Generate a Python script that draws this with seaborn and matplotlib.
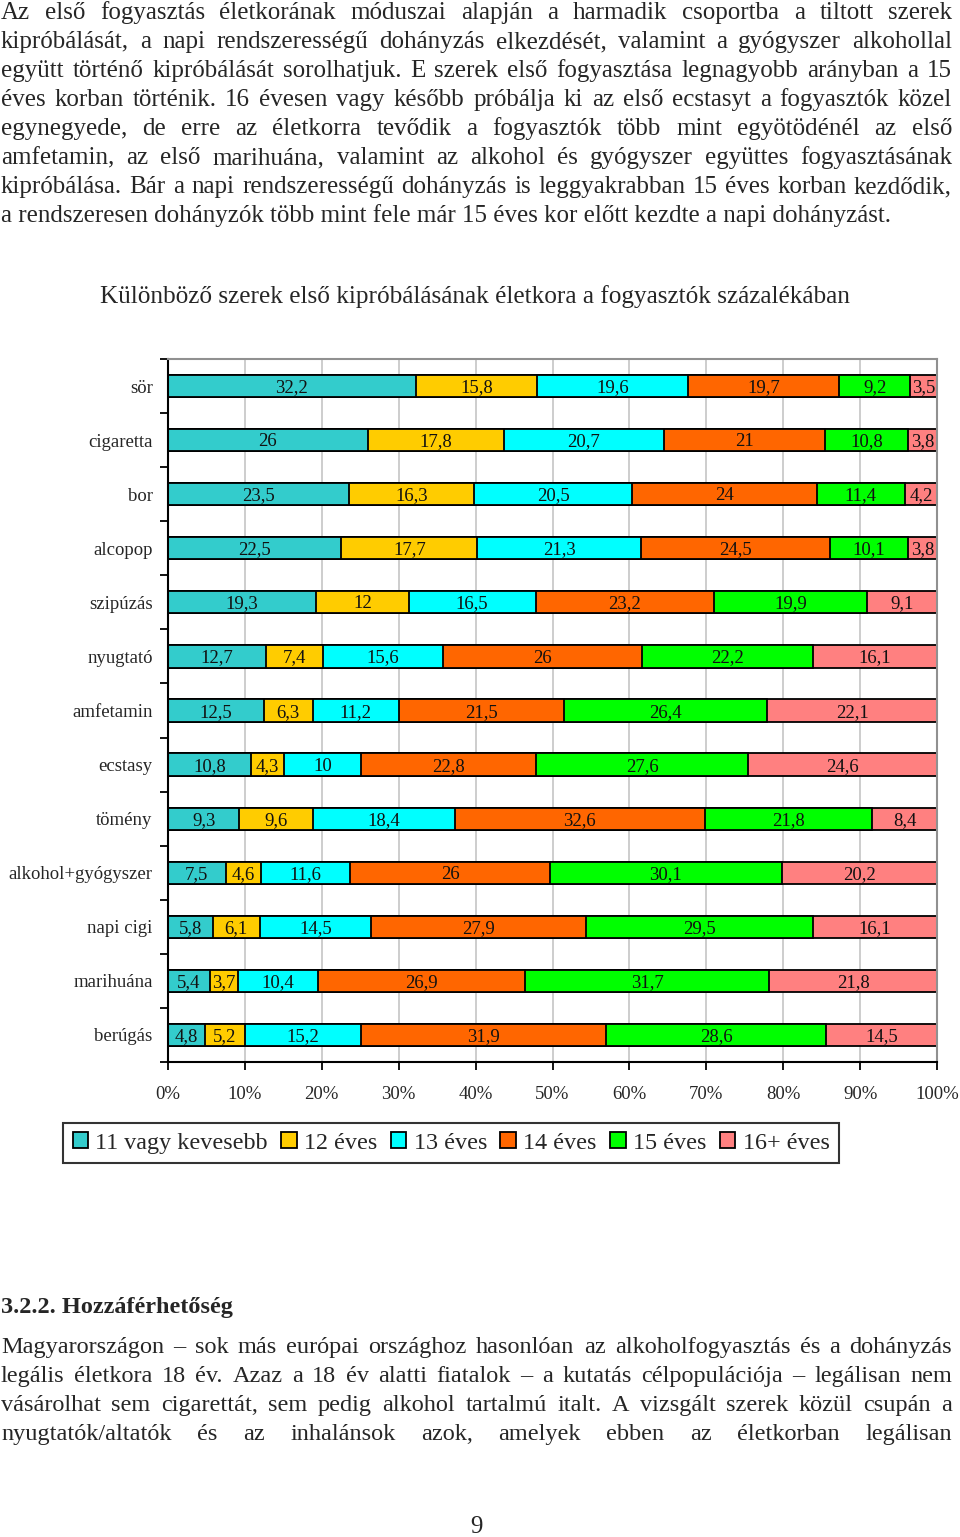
import numpy as np
import pandas as pd
import matplotlib
matplotlib.use("Agg")
import matplotlib.pyplot as plt
import seaborn as sns
from matplotlib.patches import Patch

# adatok (az abráról leolvasva)
kategoriak = ["sör", "cigaretta", "bor", "alcopop", "szipúzás", "nyugtató", "amfetamin",
              "ecstasy", "tömény", "alkohol+gyógyszer", "napi cigi", "marihuána", "berúgás"]
korcsoportok = ["11 vagy kevesebb", "12 éves", "13 éves", "14 éves", "15 éves", "16+ éves"]
szinek = ["#33CCCC", "#FFCC00", "#00FFFF", "#FF6600", "#00FF00", "#FF8080"]

ev11 = [32.2, 26, 23.5, 22.5, 19.3, 12.7, 12.5, 10.8, 9.3, 7.5, 5.8, 5.4, 4.8]
ev12 = [15.8, 17.8, 16.3, 17.7, 12, 7.4, 6.3, 4.3, 9.6, 4.6, 6.1, 3.7, 5.2]
ev13 = [19.6, 20.7, 20.5, 21.3, 16.5, 15.6, 11.2, 10, 18.4, 11.6, 14.5, 10.4, 15.2]
ev14 = [19.7, 21, 24, 24.5, 23.2, 26, 21.5, 22.8, 32.6, 26, 27.9, 26.9, 31.9]
ev15 = [9.2, 10.8, 11.4, 10.1, 19.9, 22.2, 26.4, 27.6, 21.8, 30.1, 29.5, 31.7, 28.6]
ev16 = [3.5, 3.8, 4.2, 3.8, 9.1, 16.1, 22.1, 24.6, 8.4, 20.2, 16.1, 21.8, 14.5]

cim = "Különböző szerek első kipróbálásának életkora a fogyasztók százalékában"

felso_szoveg = [
    "Az első fogyasztás életkorának móduszai alapján a harmadik csoportba a tiltott szerek",
    "kipróbálását, a napi rendszerességű dohányzás elkezdését, valamint a gyógyszer alkohollal",
    "együtt történő kipróbálását sorolhatjuk. E szerek első fogyasztása legnagyobb arányban a 15",
    "éves korban történik. 16 évesen vagy később próbálja ki az első ecstasyt a fogyasztók közel",
    "egynegyede, de erre az életkorra tevődik a fogyasztók több mint egyötödénél az első",
    "amfetamin, az első marihuána, valamint az alkohol és gyógyszer együttes fogyasztásának",
    "kipróbálása. Bár a napi rendszerességű dohányzás is leggyakrabban 15 éves korban kezdődik,",
    "a rendszeresen dohányzók több mint fele már 15 éves kor előtt kezdte a napi dohányzást.",
]
fejezet = "3.2.2. Hozzáférhetőség"
also_szoveg = [
    "Magyarországon – sok más európai országhoz hasonlóan az alkoholfogyasztás és a dohányzás",
    "legális életkora 18 év. Azaz a 18 év alatti fiatalok – a kutatás célpopulációja – legálisan nem",
    "vásárolhat sem cigarettát, sem pedig alkohol tartalmú italt. A vizsgált szerek közül csupán a",
    "nyugtatók/altatók és az inhalánsok azok, amelyek ebben az életkorban legálisan",
]

sns.set_theme(style="white")
BETU = ["Liberation Serif", "DejaVu Serif"]
plt.rcParams["font.family"] = BETU

W, H = 960, 1537
fig = plt.figure(figsize=(W / 100, H / 100), dpi=100)
ax = fig.add_axes([168 / W, 1 - 1062 / H, (937 - 168) / W, (1062 - 359) / H])

df = pd.DataFrame(dict(zip(korcsoportok, [ev11, ev12, ev13, ev14, ev15, ev16])), index=kategoriak)
szazalek = df.div(df.sum(axis=1), axis=0) * 100
kumulalt = szazalek.cumsum(axis=1)

# halmozott sávok: hátulról előre rajzolva
for kor, szin in reversed(list(zip(korcsoportok, szinek))):
    sns.barplot(x=kumulalt[kor].values, y=kategoriak, order=kategoriak, orient="h",
                color=szin, saturation=1, width=0.41, edgecolor="black",
                linewidth=1.3, ax=ax)

# értékcímkék a szeletek közepén
for i, kat in enumerate(kategoriak):
    elozo = 0
    for kor in korcsoportok:
        v = szazalek.loc[kat, kor]
        ax.text(elozo + v / 2, i + 0.03, f"{df.loc[kat, kor]:g}".replace(".", ","),
                ha="center", va="center", fontsize=13.5, color="#111111")
        elozo += v

ax.set_xlim(0, 100)
ax.set_ylim(len(kategoriak) - 0.5, -0.5)
ax.set_xlabel("")
ax.set_ylabel("")
ax.set_xticks(np.arange(0, 101, 10))
ax.set_xticklabels([f"{t}%" for t in range(0, 101, 10)], fontsize=13.5)
ax.set_yticks(np.arange(-0.5, len(kategoriak), 1), minor=True)
ax.tick_params(axis="y", which="major", length=0, pad=11, labelsize=13.5)
ax.tick_params(axis="y", which="minor", length=6, width=1.3, direction="out", color="black", left=True)
ax.tick_params(axis="x", which="major", length=6, width=1.3, direction="out", color="black",
               bottom=True, pad=11)
ax.xaxis.grid(True, color="#c0c0c0", linewidth=1.1)
ax.set_axisbelow(True)
for s in ["top", "right"]:
    ax.spines[s].set_color("#909090")
    ax.spines[s].set_linewidth(1.5)
for s in ["left", "bottom"]:
    ax.spines[s].set_color("black")
    ax.spines[s].set_linewidth(1.5)

fig.text(475 / W, 1 - 297 / H, cim, ha="center", va="center", fontsize=18.2)

kezelok = [Patch(facecolor=c, edgecolor="black", linewidth=1.3) for c in szinek]
leg = fig.legend(kezelok, korcsoportok, loc="center", bbox_to_anchor=(451 / W, 1 - 1143 / H),
                 ncol=6, prop={"family": BETU, "size": 17.4}, frameon=True, fancybox=False,
                 handlelength=0.65, handleheight=0.65, handletextpad=0.3, columnspacing=0.55,
                 borderpad=0.4)
leg.get_frame().set_edgecolor("black")
leg.get_frame().set_linewidth(1.5)

# sorkizárt szöveg
renderer = fig.canvas.get_renderer()
X0, X1 = 1, 952


def sorkizart(sorok, y0, lepes, meret, utolsot_is=False):
    for i, sor in enumerate(sorok):
        y = 1 - (y0 + i * lepes) / H
        if i == len(sorok) - 1 and not utolsot_is:
            fig.text(X0 / W, y, sor, fontsize=meret, va="baseline")
            continue
        szavak = sor.split(" ")
        tt = [fig.text(0, y, s, fontsize=meret, va="baseline") for s in szavak]
        sz = [t.get_window_extent(renderer).width for t in tt]
        hezag = (X1 - X0 - sum(sz)) / (len(szavak) - 1)
        x = X0
        for t, w in zip(tt, sz):
            t.set_x(x / W)
            x += w + hezag


sorkizart(felso_szoveg, 19, 29, 18)
fig.text(X0 / W, 1 - 1313 / H, fejezet, fontsize=17.5, fontweight="bold", va="baseline")
sorkizart(also_szoveg, 1353, 29, 17.5, utolsot_is=True)
fig.text(476 / W, 1 - 1533 / H, "9", ha="center", va="baseline", fontsize=18)

fig.savefig("out.png", dpi=100)
